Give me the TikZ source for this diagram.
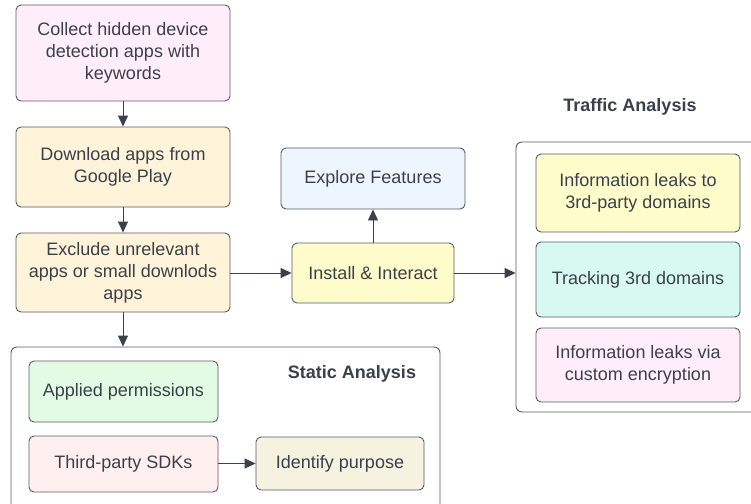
\documentclass[tikz,border=0pt]{standalone}
\usepackage{fontspec}
\setmainfont{Liberation Sans}
\usetikzlibrary{positioning}
\usetikzlibrary{arrows.meta}

\definecolor{ink}{HTML}{3A414A}
\definecolor{rim}{HTML}{555A64}
\definecolor{pinkfill}{HTML}{FFEEFA}
\definecolor{orangefill}{HTML}{FFF3D9}
\definecolor{bluefill}{HTML}{EDF5FF}
\definecolor{yellowfill}{HTML}{FFFCCC}
\definecolor{cyanfill}{HTML}{D8F8F2}
\definecolor{greenfill}{HTML}{E3FAE3}
\definecolor{redfill}{HTML}{FFF0EF}
\definecolor{beigefill}{HTML}{F5F2E0}

\begin{document}
\begin{tikzpicture}[x=1pt,y=-1pt,
  every node/.style={font=\fontsize{18}{22}\selectfont,text=ink},
  box/.style={draw=rim,line width=0.9pt,rounded corners=5pt,align=center,inner sep=0pt},
  frame/.style={draw=rim,line width=0.9pt,rounded corners=6pt,inner sep=0pt},
  title/.style={font=\fontsize{18}{22}\selectfont\bfseries},
  arr/.style={draw=ink,line width=0.9pt,-{Triangle[length=11pt,width=10pt]}}]
  \useasboundingbox (0,0) rectangle (751,503);

  % main pipeline
  \node[box,fill=pinkfill,minimum width=214pt,minimum height=96pt] (collect) at (123,53)
    {Collect hidden device\\detection apps with\\keywords};
  \node[box,fill=orangefill,minimum width=214pt,minimum height=80pt] (download) at (123,167)
    {Download apps from\\Google Play};
  \node[box,fill=orangefill,minimum width=214pt,minimum height=79pt] (exclude) at (123,272.5)
    {Exclude unrelevant\\apps or small downlods\\apps};

  % dynamic side
  \node[box,fill=yellowfill,minimum width=162pt,minimum height=60pt] (install) at (373,273)
    {Install \& Interact};
  \node[box,fill=bluefill,minimum width=184pt,minimum height=61pt] (explore) at (373,178.5)
    {Explore Features};

  % traffic analysis group
  \node[frame,minimum width=244pt,minimum height=270pt] (traffic) at (638,277) {};
  \node[title] (traffictitle) at (630,107) {Traffic Analysis};
  \node[box,fill=yellowfill,minimum width=204pt,minimum height=78pt] (leaks) at (638,193)
    {Information leaks to\\3rd-party domains};
  \node[box,fill=cyanfill,minimum width=204pt,minimum height=75pt] (tracking) at (638,279.5)
    {Tracking 3rd domains};
  \node[box,fill=pinkfill,minimum width=204pt,minimum height=74pt] (crypto) at (638,365)
    {Information leaks via\\custom encryption};

  % static analysis group
  \node[frame,minimum width=429pt,minimum height=170pt] (static) at (225.5,432) {};
  \node[title] (statictitle) at (352,374) {Static Analysis};
  \node[box,fill=greenfill,minimum width=189pt,minimum height=61pt] (perms) at (123.5,391.5)
    {Applied permissions};
  \node[box,fill=redfill,minimum width=189pt,minimum height=56pt] (sdks) at (123.5,464)
    {Third-party SDKs};
  \node[box,fill=beigefill,minimum width=168pt,minimum height=53pt] (purpose) at (340,463.5)
    {Identify purpose};

  \draw[arr] (collect) -- (download);
  \draw[arr] (download) -- (exclude);
  \draw[arr] (exclude) -- (exclude |- static.north);
  \draw[arr] (exclude.east |- install) -- (install.west);
  \draw[arr] (install) -- (explore);
  \draw[arr] (install.east) -- (install.east -| traffic.west);
  \draw[arr] (sdks.east |- purpose) -- (purpose.west);
\end{tikzpicture}
\end{document}
